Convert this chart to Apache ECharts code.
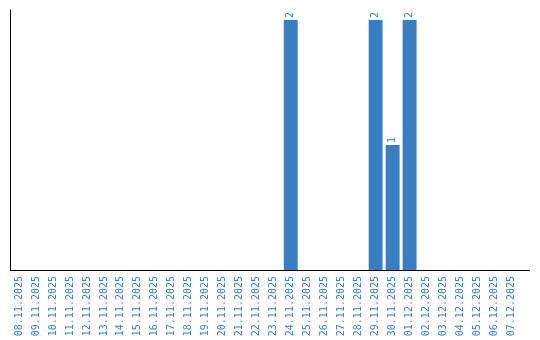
<!DOCTYPE html>
<html><head><meta charset="utf-8">
<script src="https://cdn.jsdelivr.net/npm/echarts@6/dist/echarts.min.js"></script>
<style>html,body{margin:0;padding:0;background:#fff}#c{width:540px;height:340px}</style>
</head><body><div id="c"></div>
<script>
const categories = ["08.11.2025","09.11.2025","10.11.2025","11.11.2025","12.11.2025","13.11.2025","14.11.2025","15.11.2025","16.11.2025","17.11.2025","18.11.2025","19.11.2025","20.11.2025","21.11.2025","22.11.2025","23.11.2025","24.11.2025","25.11.2025","26.11.2025","27.11.2025","28.11.2025","29.11.2025","30.11.2025","01.12.2025","02.12.2025","03.12.2025","04.12.2025","05.12.2025","06.12.2025","07.12.2025"];
const values = [0,0,0,0,0,0,0,0,0,0,0,0,0,0,0,0,2,0,0,0,0,2,1,2,0,0,0,0,0,0];
const blue = '#3a7ec2';
const chart = echarts.init(document.getElementById('c'));
chart.setOption({
  animation:false,
  grid:{left:10.5,right:20,top:10,bottom:70},
  xAxis:{type:'category',data:categories,
    axisLine:{lineStyle:{color:'#000',width:1}},axisTick:{show:false},
    axisLabel:{rotate:90,interval:0,color:blue,fontSize:10,fontFamily:'DejaVu Sans Mono',margin:6}},
  yAxis:{type:'value',min:0,max:v=>v.max*1.04,
    axisLine:{show:true,lineStyle:{color:'#000',width:1}},axisTick:{show:false},
    axisLabel:{show:false},splitLine:{show:false}},
  series:[{type:'bar',data:values.map(v=>v===0?null:v),barWidth:'82%',itemStyle:{color:blue},
    label:{show:true,position:'top',rotate:90,align:'left',verticalAlign:'middle',distance:2,color:blue,fontSize:10,fontFamily:'DejaVu Sans Mono'}}],
  graphic:[{type:'line',shape:{x1:520,y1:270.5,x2:530,y2:270.5},style:{stroke:'#000',lineWidth:1}}]
});
</script></body></html>
